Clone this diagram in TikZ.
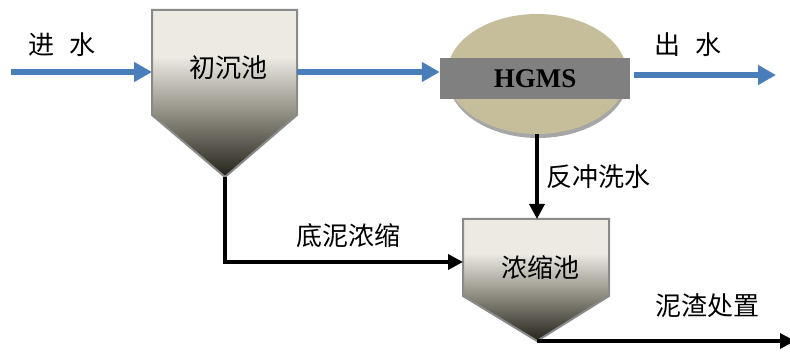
\documentclass[tikz,border=0pt]{standalone}
\usepackage{fontspec}
\setmainfont{Liberation Serif}
\newfontfamily\cjk{Noto Sans CJK SC}
\usetikzlibrary{arrows.meta,shapes.geometric}

\definecolor{flowblue}{RGB}{74,126,187}
\definecolor{tankedge}{RGB}{138,138,138}
\definecolor{tanklight}{RGB}{236,234,227}
\definecolor{tankmid}{RGB}{150,147,136}
\definecolor{tankdark}{RGB}{36,34,26}
\definecolor{hgmsbody}{RGB}{198,190,154}
\definecolor{hgmsbar}{RGB}{128,128,128}

\pgfdeclareverticalshading{tankfill}{100bp}{color(0bp)=(tankdark); color(25bp)=(tankdark);
  color(45bp)=(tankmid); color(61bp)=(tanklight); color(75bp)=(tanklight); color(100bp)=(tanklight)}

\tikzset{
  water/.style={line width=6pt, flowblue, -{Triangle[length=18pt,width=19pt]}},
  sludge/.style={line width=3.5pt, -{Triangle[length=15pt,width=15pt]}},
  tank/.style={draw=tankedge, line width=2pt, shading=tankfill},
  cjklabel/.style={font=\cjk\fontsize{26}{26}\selectfont, inner sep=2pt}
}

\begin{document}
\begin{tikzpicture}[x=1pt,y=-1pt]
  \useasboundingbox (0,0) rectangle (790,352);

  % primary settler
  \path[tank] (152,10) -- (297,10) -- (297,115) -- (225,177) -- (152,115) -- cycle;
  \node[cjklabel] (pc) at (228,68) {初沉池};
  \coordinate (pc-in) at (152,72);
  \coordinate (pc-out) at (297,72);
  \coordinate (pc-bot) at (225,177);

  % HGMS unit
  \fill[gray!70] (538,78) ellipse (90 and 60);
  \node[fill=hgmsbody, ellipse, minimum width=180, minimum height=120, inner sep=0] (body) at (537,74) {};
  \node[fill=hgmsbar, minimum width=190, minimum height=41, inner sep=0,
        font=\bfseries\fontsize{27}{27}\selectfont] (hgms) at (535,78.5) {HGMS};

  % thickener
  \path[tank] (463,219) -- (609,219) -- (609,296) -- (537,341) -- (463,296) -- cycle;
  \node[cjklabel] (th) at (540,268) {浓缩池};
  \coordinate (th-top) at (537,219);
  \coordinate (th-in) at (463,262);
  \coordinate (th-bot) at (537,341);

  % water line
  \coordinate (inflow) at (11,72);
  \coordinate (outflow) at (776,75);
  \node[cjklabel] (in-label) at (62,45) {进\hspace{0.6em}水};
  \node[cjklabel] (out-label) at (688,45) {出\hspace{0.6em}水};
  \draw[water] (inflow) -- (pc-in);
  \draw[water] (pc-out) -- (hgms.west |- pc-out);
  \draw[water] (hgms.east |- outflow) ++(4,0) -- (outflow);

  % sludge line
  \coordinate (disposal) at (795,341);
  \draw[sludge] (body.south) -- node[cjklabel, right=6pt] {反冲洗水} (th-top);
  \draw[sludge] (pc-bot) |- node[cjklabel, above=11pt, pos=0.76] {底泥浓缩} (th-in);
  \draw[sludge] (th-bot) -- node[cjklabel, above=20pt, pos=0.66] {泥渣处置} (disposal);
\end{tikzpicture}
\end{document}
